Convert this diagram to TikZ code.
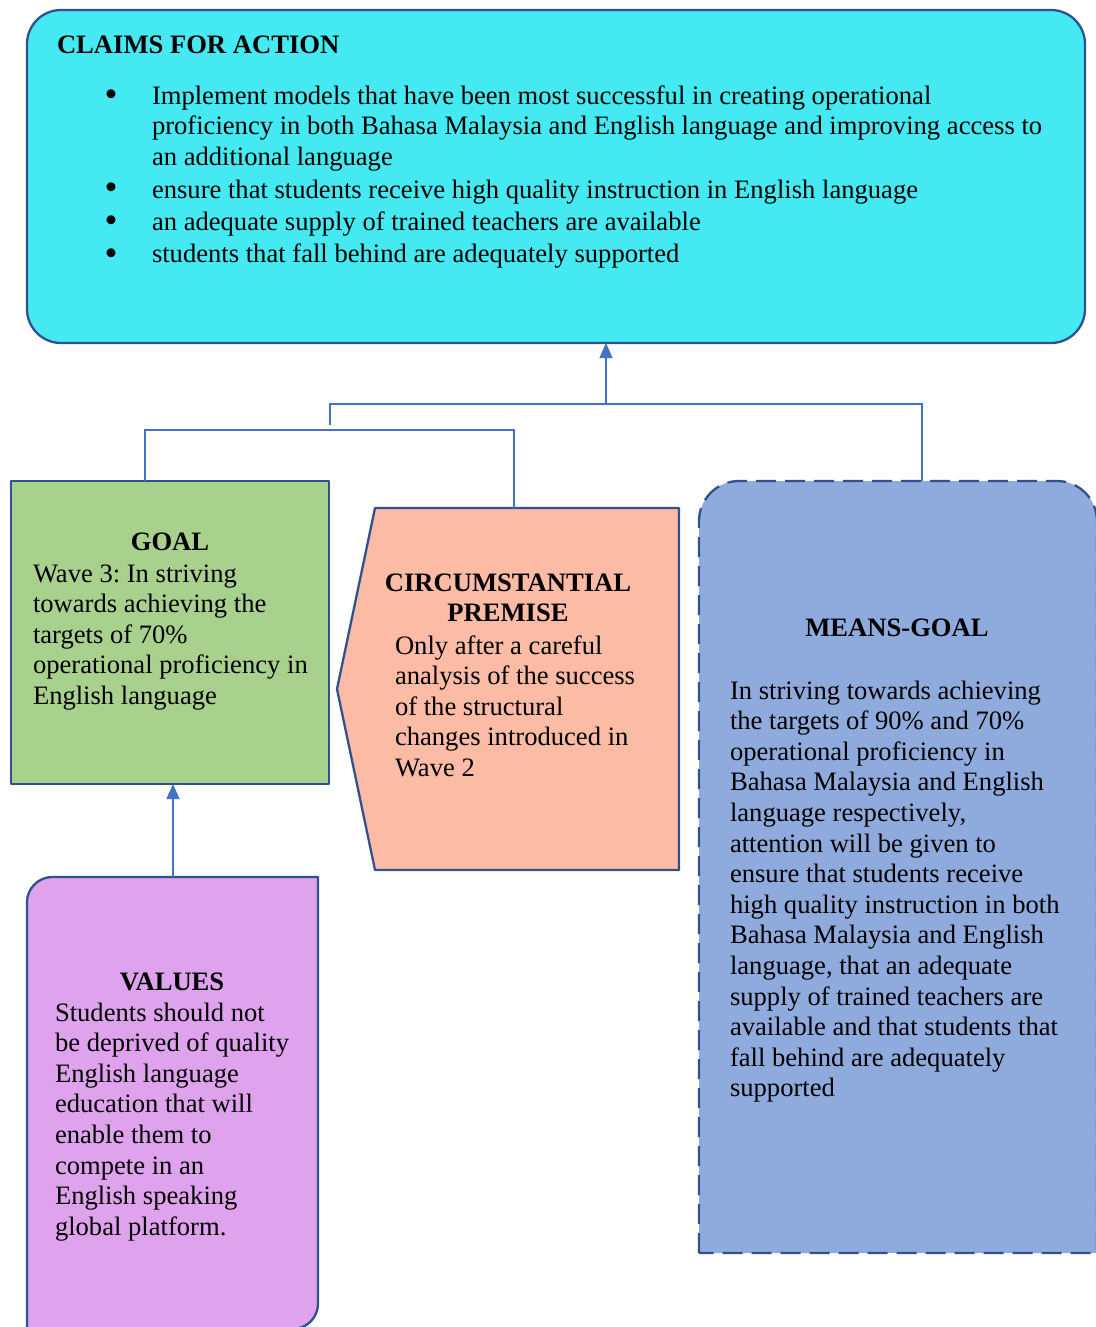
\documentclass[tikz,border=0pt]{standalone}
\usepackage{fontspec}
\setmainfont{Liberation Serif}
\frenchspacing
\usetikzlibrary{arrows.meta}
\definecolor{claimcyan}{HTML}{44E9F1}
\definecolor{goalgreen}{HTML}{A9D18E}
\definecolor{circsalmon}{HTML}{FBBBA4}
\definecolor{meansblue}{HTML}{8FAADC}
\definecolor{valuespink}{HTML}{DFA2EC}
\definecolor{boxline}{HTML}{2F528F}
\definecolor{linkblue}{HTML}{4472C4}
\begin{document}
\begin{tikzpicture}[x=1pt,y=-1pt,
  every node/.style={inner sep=0pt, outer sep=0pt},
  % multi-line texts are placed by the baseline of their last line
  txt/.style={font=\fontsize{26.6}{30.6}\selectfont, align=left, anchor=base west},
  head/.style={font=\fontsize{26.6}{30.6}\selectfont\bfseries, align=center, anchor=base},
  bul/.style={font=\fontsize{37}{37}\selectfont, anchor=base},
  shapeline/.style={draw=boxline, line width=2.3pt, line join=round},
  link/.style={draw=linkblue, line width=1.1pt},
  uparrow/.style={link, -{Triangle[width=13pt,length=15pt]}}]

\useasboundingbox (0,0) rectangle (1095,1327);

% ---- Claims for action ----
\node[shapeline, fill=claimcyan, rounded corners=34pt, minimum width=1058pt,
      minimum height=333pt, anchor=north west] (claims) at (27,10) {};
\node[head, anchor=base west] (claimshead) at (57,54) {CLAIMS FOR ACTION};
\node[bul] (b1) at (111,107) {\textbullet};
\node[bul] (b2) at (111,199.5) {\textbullet};
\node[bul] (b3) at (111,232) {\textbullet};
\node[bul] (b4) at (111,265) {\textbullet};
\node[txt] (c1) at (152,165.2) {Implement models that have been most successful in creating operational\\proficiency in both Bahasa Malaysia and English language and improving access to\\an additional language};
\node[txt] (c2) at (152,198) {ensure that students receive high quality instruction in English language};
\node[txt] (c3) at (152,230) {an adequate supply of trained teachers are available};
\node[txt] (c4) at (152,262) {students that fall behind are adequately supported};

% ---- Goal ----
\node[shapeline, fill=goalgreen, minimum width=318pt, minimum height=303pt,
      anchor=north west] (goal) at (11,481) {};
\node[head] (goalhead) at (170,550) {GOAL};
\node[txt] (goaltext) at (33,704.4) {Wave 3: In striving\\towards achieving the\\targets of 70\%\\operational proficiency in\\English language};

% ---- Circumstantial premise ----
\path[shapeline, fill=circsalmon] (375,508) -- (679,508) -- (679,870) -- (375,870) -- (337,689) -- cycle;
\coordinate (circtop) at (514,508);
\node[head] (circhead) at (508,621.6) {CIRCUMSTANTIAL\\PREMISE};
\node[txt] (circtext) at (395,776.4) {Only after a careful\\analysis of the success\\of the structural\\changes introduced in\\Wave 2};

% ---- Means-goal ----
\path[shapeline, dash pattern=on 20pt off 9pt, fill=meansblue]
  (699,1253) -- (699,521) .. controls (699,499) and (717,481) .. (739,481)
  -- (1057,481) .. controls (1079,481) and (1097,499) .. (1097,521)
  -- (1097,1253) -- cycle;
\coordinate (meanstop) at (922,481);
\node[head] (meanshead) at (897,636) {MEANS-GOAL};
\node[txt] (meanstext) at (730,1096.8) {In striving towards achieving\\the targets of 90\% and 70\%\\operational proficiency in\\Bahasa Malaysia and English\\language respectively,\\attention will be given to\\ensure that students receive\\high quality instruction in both\\Bahasa Malaysia and English\\language, that an adequate\\supply of trained teachers are\\available and that students that\\fall behind are adequately\\supported};

% ---- Values ----
\path[shapeline, fill=valuespink]
  (27,1329) -- (27,902) .. controls (27,888.2) and (38.8,877) .. (52,877)
  -- (318,877) -- (318,1304) .. controls (318,1317.8) and (306.2,1329) .. (293,1329)
  -- cycle;
\coordinate (valtop) at (173,877);
\node[head] (valhead) at (172,990) {VALUES};
\node[txt] (valtext) at (55,1235.2) {Students should not\\be deprived of quality\\English language\\education that will\\enable them to\\compete in an\\English speaking\\global platform.};

% ---- Connectors ----
\coordinate (goaltop) at (145,481);
\coordinate (lowbarR) at (514,430);
\coordinate (lowbarmid) at (330,425);
\coordinate (highbarR) at (922,404);
\coordinate (highbarmid) at (606,404);
\draw[link] (goaltop) |- (lowbarR) -- (circtop);
\draw[link] (lowbarmid) |- (highbarR) -- (meanstop);
\draw[uparrow] (highbarmid) -- (highbarmid |- claims.south);
\draw[uparrow] (valtop) -- (valtop |- goal.south);
\end{tikzpicture}
\end{document}
